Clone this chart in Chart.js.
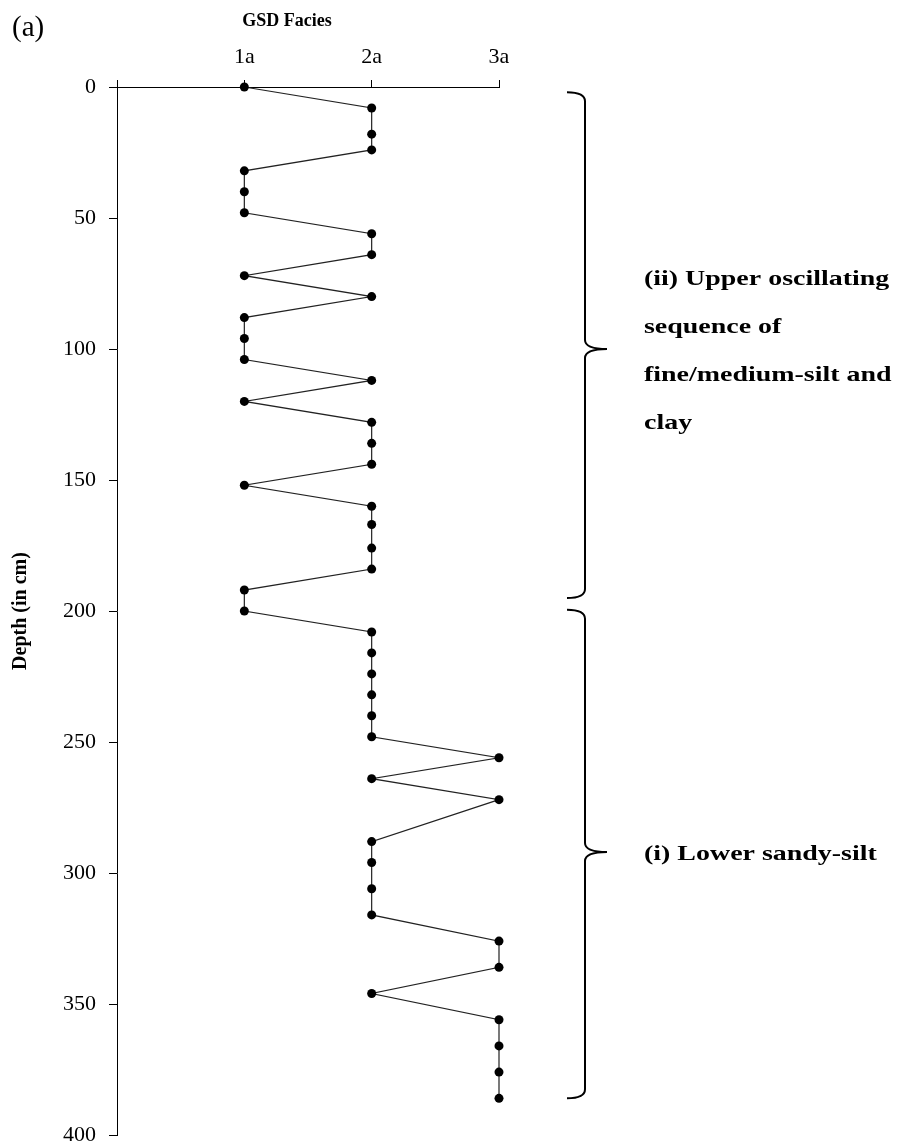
<!DOCTYPE html>
<html>
<head>
<meta charset="utf-8">
<script src="https://cdn.jsdelivr.net/npm/chart.js@4.4.1/dist/chart.umd.min.js"></script>
<style>
  body { margin: 0; background: #fff; }
  #wrap { width: 902px; height: 1145px; position: relative; }
</style>
</head>
<body>
<div id="wrap"><canvas id="gsdChart"></canvas></div>
<script>
// depth of each sample (cm) and its GSD facies (1 = 1a, 2 = 2a, 3 = 3a)
const depths = [0, 8, 18, 24, 32, 40, 48, 56, 64, 72, 80, 88, 96, 104, 112, 120, 128, 136, 144, 152, 160, 167, 176, 184, 192, 200,
  208, 216, 224, 232, 240, 248, 256, 264, 272, 288, 296, 306, 316, 326, 336, 346, 356, 366, 376, 386];
const facies = [1, 2, 2, 2, 1, 1, 1, 2, 2, 1, 2, 1, 1, 1, 2, 1, 2, 2, 2, 1, 2, 2, 2, 2, 1, 1,
  2, 2, 2, 2, 2, 2, 3, 2, 3, 2, 2, 2, 2, 3, 3, 2, 3, 3, 3, 3];
const faciesLabels = ["", "1a", "2a", "3a"];

// bracketed units: [top depth, middle depth, bottom depth]
const unitRanges = [[2, 100, 195], [199.5, 292, 386]];
const unitLabels = [
  ["(ii) Upper oscillating", "sequence of", "fine/medium-silt and", "clay"],
  ["(i) Lower sandy-silt"],
];

const serif = "'Liberation Serif', 'Times New Roman', serif";

const points = depths.map((d, i) => ({ x: facies[i], y: d }));

// text in the source is slightly wider than the font, so stretch it a bit
function wideText(ctx, text, x, y, sx) {
  ctx.save();
  ctx.translate(x, y);
  ctx.scale(sx, 1);
  ctx.fillText(text, 0, 0);
  ctx.restore();
}

// braces, labels and titles drawn on top of the chart
const annotations = {
  id: "annotations",
  afterDraw(chart) {
    const ctx = chart.ctx;
    const y = chart.scales.y;
    ctx.save();
    ctx.fillStyle = "#000";

    ctx.font = "29px " + serif;
    ctx.textAlign = "left";
    ctx.textBaseline = "middle";
    ctx.fillText("(a)", 12, 28);

    ctx.font = "bold 18px " + serif;
    ctx.textAlign = "center";
    ctx.fillText("GSD Facies", 287, 21);

    const bx = 585;
    ctx.strokeStyle = "#000";
    ctx.lineWidth = 2;
    unitRanges.forEach((r, i) => {
      const top = y.getPixelForValue(r[0]);
      const mid = y.getPixelForValue(r[1]);
      const bot = y.getPixelForValue(r[2]);
      ctx.beginPath();
      ctx.moveTo(bx - 18, top);
      ctx.quadraticCurveTo(bx, top, bx, top + 9);
      ctx.lineTo(bx, mid - 9);
      ctx.quadraticCurveTo(bx, mid, bx + 22, mid);
      ctx.quadraticCurveTo(bx, mid, bx, mid + 9);
      ctx.lineTo(bx, bot - 9);
      ctx.quadraticCurveTo(bx, bot, bx - 18, bot);
      ctx.stroke();

      const lines = unitLabels[i];
      ctx.font = "bold 22px " + serif;
      ctx.textAlign = "left";
      const lh = 48;
      const start = mid + 2 - ((lines.length - 1) * lh) / 2;
      lines.forEach((t, k) => wideText(ctx, t, 644, start + k * lh, 1.27));
    });
    ctx.restore();
  },
};

new Chart(document.getElementById("gsdChart"), {
  type: "scatter",
  data: {
    datasets: [
      {
        data: points,
        showLine: true,
        clip: false,
        borderColor: "#222",
        borderWidth: 1.2,
        pointRadius: 4.5,
        pointBackgroundColor: "#000",
        pointBorderWidth: 0,
      },
    ],
  },
  options: {
    responsive: true,
    maintainAspectRatio: false,
    animation: false,
    layout: { padding: { left: 0, top: 0, right: 403, bottom: 10 } },
    plugins: { legend: { display: false }, tooltip: { enabled: false } },
    scales: {
      x: {
        type: "linear",
        position: "top",
        min: 0,
        max: 3,
        afterFit: (scale) => { scale.height = 87; },
        ticks: {
          stepSize: 1,
          padding: 10,
          color: "#000",
          font: { family: serif, size: 22 },
          callback: (v) => faciesLabels[v] || "",
        },
        grid: { drawOnChartArea: false, drawTicks: true, tickLength: 7, color: "#000" },
        border: { display: true, color: "#000", width: 1 },
      },
      y: {
        type: "linear",
        reverse: true,
        min: 0,
        max: 400,
        afterFit: (scale) => {
          scale.width = 117;
          scale.paddingTop = 0;
          scale.paddingBottom = 0;
        },
        ticks: {
          stepSize: 50,
          padding: 13,
          color: "#000",
          font: { family: serif, size: 22, lineHeight: 1 },
        },
        grid: { drawOnChartArea: false, drawTicks: true, tickLength: 8, color: "#000" },
        border: { display: true, color: "#000", width: 1 },
        title: {
          display: true,
          text: "Depth (in cm)",
          color: "#000",
          font: { family: serif, size: 20, weight: "bold" },
          padding: { top: 9, bottom: 0 },
        },
      },
    },
  },
  plugins: [annotations],
});
</script>
</body>
</html>
